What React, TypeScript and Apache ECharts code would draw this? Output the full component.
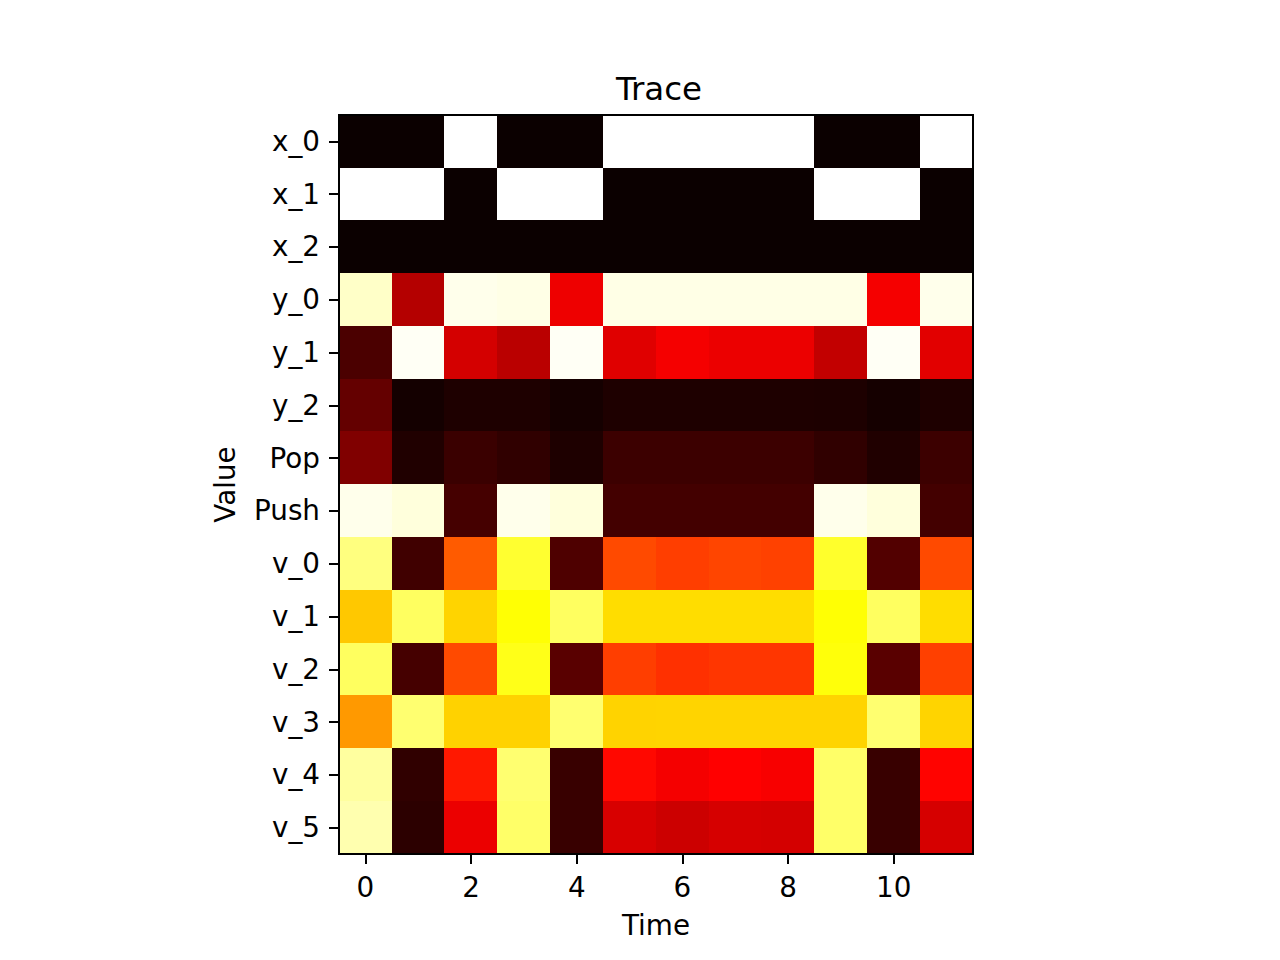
import React, { useEffect, useRef } from "react";
import * as echarts from "echarts";

const timeSteps = ["0", "1", "2", "3", "4", "5", "6", "7", "8", "9", "10", "11"];
const rowLabels = ["x_0", "x_1", "x_2", "y_0", "y_1", "y_2", "Pop", "Push", "v_0", "v_1", "v_2", "v_3", "v_4", "v_5"];

const x0 = [0, 0, 1, 0, 0, 1, 1, 1, 1, 0, 0, 1];
const x1 = [1, 1, 0, 1, 1, 0, 0, 0, 0, 1, 1, 0];
const x2 = [0, 0, 0, 0, 0, 0, 0, 0, 0, 0, 0, 0];
const y0 = [0.945, 0.253, 0.98, 0.975, 0.34, 0.975, 0.975, 0.975, 0.975, 0.975, 0.35, 0.98];
const y1 = [0.096, 0.99, 0.3, 0.263, 0.99, 0.319, 0.35, 0.337, 0.337, 0.274, 0.99, 0.322];
const y2 = [0.133, 0.014, 0.029, 0.029, 0.016, 0.029, 0.029, 0.029, 0.029, 0.027, 0.016, 0.029];
const pop = [0.175, 0.032, 0.071, 0.056, 0.029, 0.074, 0.074, 0.074, 0.074, 0.056, 0.032, 0.074];
const push = [0.98, 0.965, 0.087, 0.98, 0.965, 0.085, 0.085, 0.085, 0.085, 0.98, 0.965, 0.085];
const v0 = [0.873, 0.08, 0.5, 0.794, 0.1, 0.476, 0.458, 0.468, 0.463, 0.79, 0.107, 0.476];
const v1 = [0.664, 0.842, 0.682, 0.75, 0.842, 0.695, 0.695, 0.695, 0.695, 0.75, 0.842, 0.695];
const v2 = [0.84, 0.087, 0.476, 0.77, 0.118, 0.458, 0.437, 0.446, 0.446, 0.756, 0.118, 0.46];
const v3 = [0.594, 0.858, 0.679, 0.679, 0.858, 0.68, 0.682, 0.682, 0.682, 0.682, 0.858, 0.682];
const v4 = [0.905, 0.056, 0.401, 0.858, 0.068, 0.377, 0.35, 0.365, 0.354, 0.85, 0.068, 0.37];
const v5 = [0.921, 0.05, 0.337, 0.85, 0.068, 0.307, 0.289, 0.304, 0.3, 0.85, 0.068, 0.304];

const rows = [x0, x1, x2, y0, y1, y2, pop, push, v0, v1, v2, v3, v4, v5];

// matplotlib "hot" colormap
function hot(t: number): string {
  const a = 0.365079;
  const b = 0.746032;
  const r = t < a ? 0.0416 + (t / a) * (1 - 0.0416) : 1;
  const g = t < a ? 0 : t < b ? (t - a) / (b - a) : 1;
  const bl = t < b ? 0 : (t - b) / (1 - b);
  const h = (v: number) => Math.round(Math.max(0, Math.min(1, v)) * 255).toString(16).padStart(2, "0");
  return "#" + h(r) + h(g) + h(bl);
}
const hotColors: string[] = [];
for (let i = 0; i <= 255; i++) hotColors.push(hot(i / 255));

const FONT = "DejaVu Sans";

export default function App() {
  const ref = useRef<HTMLDivElement>(null);
  useEffect(() => {
    if (!ref.current) return;
    const chart = echarts.init(ref.current, undefined, { renderer: "svg" });
    const data: [number, number, number][] = [];
    rows.forEach((row, ri) => row.forEach((v, ci) => data.push([ci, ri, v])));
    const gridLeft = 339;
    const gridTop = 115;
    const gridW = 634;
    const gridH = 739;
    chart.setOption({
      animation: false,
      backgroundColor: "#ffffff",
      title: {
        text: "Trace",
        left: 654,
        top: 67,
        textAlign: "center",
        textStyle: { fontFamily: FONT, fontSize: 32.5, fontWeight: "normal", color: "#000" },
      },
      grid: { left: gridLeft, top: gridTop, width: gridW, height: gridH },
      xAxis: {
        type: "category",
        data: timeSteps,
        position: "bottom",
        name: "Time",
        nameLocation: "middle",
        nameGap: 57,
        nameTextStyle: { fontFamily: FONT, fontSize: 27.8, color: "#000" },
        axisLine: { show: false },
        axisTick: {
          show: true,
          alignWithLabel: true,
          length: 9.7,
          interval: (i: number) => i % 2 === 0,
          lineStyle: { color: "#000", width: 2.2 },
        },
        axisLabel: {
          interval: (i: number) => i % 2 === 0,
          margin: 19,
          fontFamily: FONT,
          fontSize: 27.8,
          color: "#000",
        },
        splitLine: { show: false },
      },
      yAxis: {
        type: "category",
        data: rowLabels,
        inverse: true,
        name: "Value",
        nameLocation: "middle",
        nameGap: 100,
        nameRotate: 90,
        nameTextStyle: { fontFamily: FONT, fontSize: 27.8, color: "#000" },
        axisLine: { show: false },
        axisTick: {
          show: true,
          alignWithLabel: true,
          length: 9.7,
          interval: 0,
          lineStyle: { color: "#000", width: 2.2 },
        },
        axisLabel: { interval: 0, margin: 19, fontFamily: FONT, fontSize: 27.8, color: "#000" },
        splitLine: { show: false },
      },
      visualMap: {
        show: false,
        min: 0,
        max: 1,
        dimension: 2,
        inRange: { color: hotColors },
      },
      series: [
        {
          type: "heatmap",
          data,
          itemStyle: { borderWidth: 0 },
          emphasis: { disabled: true },
        },
      ],
      graphic: [
        {
          type: "rect",
          z: 100,
          shape: { x: gridLeft, y: gridTop, width: gridW, height: gridH },
          style: { fill: "none", stroke: "#000", lineWidth: 2.2 },
        },
      ],
    });
    return () => chart.dispose();
  }, []);
  return (
    <>
      <style>{".hm-chart svg path { shape-rendering: crispEdges; }"}</style>
      <div
        ref={ref}
        className="hm-chart"
        style={{ position: "fixed", left: 0, top: 0, width: 1280, height: 960, background: "#fff" }}
      />
    </>
  );
}
